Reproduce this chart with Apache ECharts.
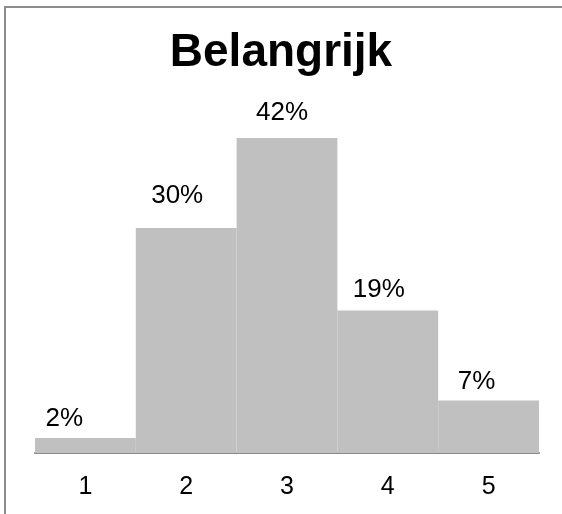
<!DOCTYPE html>
<html>
<head>
<meta charset="utf-8">
<script src="https://cdn.jsdelivr.net/npm/echarts@6/dist/echarts.min.js"></script>
<style>
    * {
        margin: 0;
        padding: 0;
    }
    #main {
        width: 562px;
        height: 514px;
        background: #fff;
    }
</style>
</head>
<body>
<div id="main"></div>
<script>
    // scores 1..5 and share of answers in percent
    const categories = ['1', '2', '3', '4', '5']
    const shares = [2, 30, 42, 19, 7]

    // the labels were dragged by hand in the original, nudge them the same way
    const labelNudge = [[-21, 0], [-9, -13], [-5, -6], [-9, -2], [-12, 0]]

    let myChart = echarts.init(document.getElementById('main'))
    let option = {
        animation: false,
        title: {
            text: 'Belangrijk',
            left: 'center',
            top: 25,
            padding: [5, 5, 5, 15],
            textStyle: {
                color: '#000',
                fontFamily: 'Liberation Sans',
                fontWeight: 'bold',
                fontSize: 46
            }
        },
        graphic: [{
            type: 'rect',
            shape: {x: 5, y: 7, width: 700, height: 700},
            style: {fill: 'none', stroke: '#8c8c8c', lineWidth: 2}
        }],
        grid: {
            left: 35,
            right: 23,
            top: 78,
            bottom: 61
        },
        xAxis: {
            type: 'category',
            data: categories,
            axisTick: {show: false},
            axisLine: {lineStyle: {color: '#8a8a8a', width: 2}},
            axisLabel: {
                color: '#000',
                fontFamily: 'Liberation Sans',
                fontSize: 25,
                margin: 22
            }
        },
        yAxis: {
            type: 'value',
            min: 0,
            max: 50,
            show: false,
            splitLine: {show: false}
        },
        series: [{
            type: 'bar',
            data: shares.map(function (v, i) {
                return {value: v, label: {offset: labelNudge[i]}}
            }),
            barWidth: '100%',
            barCategoryGap: 0,
            itemStyle: {color: '#c0c0c0'},
            label: {
                show: true,
                position: 'top',
                distance: 6,
                formatter: '{c}%',
                color: '#000',
                fontFamily: 'Liberation Sans',
                fontSize: 26
            }
        }]
    }
    myChart.setOption(option)
</script>
</body>
</html>
